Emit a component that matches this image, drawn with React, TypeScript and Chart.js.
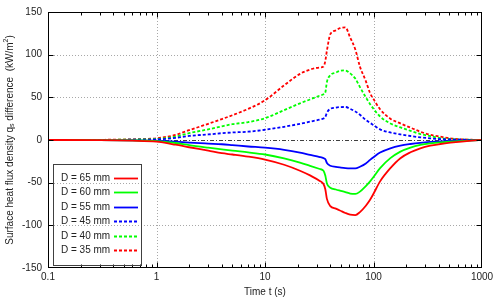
import React, { useEffect, useRef } from "react";
import { Chart, registerables } from "chart.js";
Chart.register(...registerables);

// Time axis samples (s)
const times = [0.1, 0.3, 0.6, 1, 1.5, 2, 3, 4, 5, 7, 10, 15, 21, 26, 32, 34.6, 36, 37.2, 40, 45, 49, 55, 61, 68, 75, 85, 93, 100, 115, 143, 177, 219, 270, 334, 414, 512, 650, 800, 1000];

// Heat flux differences (kW/m^2)
const d65 = [0, -0.15, -0.8, -2, -5.5, -8.5, -12.5, -15.5, -17, -19.5, -23, -29, -36, -41.5, -48, -51.6, -58, -69, -77.5, -80.5, -82.6, -85.5, -87.5, -88, -84.5, -77, -70, -63, -48.5, -33, -21.3, -14.4, -9.7, -6.6, -4.7, -3.2, -1.8, -0.8, 0];
const d60 = [0, -0.1, -0.5, -1.2, -3.5, -6, -9, -11, -12.5, -14.5, -17, -21.5, -26.4, -30.2, -34, -36, -42, -51, -56, -58, -59.3, -61, -62.8, -63.2, -60.5, -54, -48.5, -43.4, -33, -21.3, -13.6, -8.9, -5.8, -3.9, -2.7, -2, -1.2, -0.5, 0];
const d55 = [0, -0.05, -0.3, -0.8, -2, -3, -4.2, -5, -6, -7.6, -9, -11.5, -14.7, -17.4, -20, -21.3, -22.5, -27, -30.2, -31.5, -32.2, -33, -33.3, -33.3, -31.3, -27.5, -23.3, -20.2, -14.7, -9.7, -6.6, -4.7, -3.3, -2.3, -1.6, -1.1, -0.7, -0.3, 0];
const d45 = [0, 0.05, 0.3, 0.6, 2.5, 4.8, 6.5, 8, 8.8, 9.7, 12, 15.5, 19, 21.5, 24, 25.2, 27, 32, 36.5, 38, 38.5, 38.7, 36.5, 33.5, 29.5, 23.5, 20, 17.5, 12.5, 8.8, 6.6, 4.7, 3.1, 2, 1, 0.6, 0.3, 0.1, 0];
const d40 = [0, 0.1, 0.5, 1.2, 4, 8, 12.5, 16, 18.5, 21, 25.5, 35, 43, 47.5, 52, 53.5, 56, 68, 76, 79, 81, 81.5, 78, 72, 62, 50, 42, 36.5, 27.5, 19.4, 14.7, 10.8, 7, 4.5, 2.2, 1.2, 0.5, 0.2, 0];
const d35 = [0, 0.2, 0.8, 2, 6, 11.5, 19, 24.5, 29, 36.5, 46.5, 64, 77.5, 82.5, 85, 86, 93, 104.7, 124, 128.5, 131, 132, 120, 106, 86, 69, 55, 48, 36, 25, 19.4, 14.5, 9.7, 6, 3.9, 2, 0.8, 0.3, 0];

const seriesLabels = ["D = 65 mm", "D = 60 mm", "D = 55 mm", "D = 45 mm", "D = 40 mm", "D = 35 mm"];

// Axis ticks
const xTickValues = [0.1, 1, 10, 100, 1000];
const xGridValues = [1, 10, 100];
const yGridValues = [-100, -50, 50, 100];
const yTickValues = [-100, -50, 0, 50, 100];

const FONT = "'Liberation Sans', Arial, sans-serif";
const TEXT = "#222";

const gnuplotPlugin = {
  id: "gnuplotFrame",
  beforeDatasetsDraw(chart: any) {
    const { ctx, chartArea: a, scales } = chart;
    const xs = scales.x, ys = scales.y;
    ctx.save();
    ctx.lineWidth = 1;
    ctx.strokeStyle = "#a8a8a8";
    ctx.setLineDash([1, 2]);
    for (const v of xGridValues) {
      const px = Math.round(xs.getPixelForValue(v)) + 0.5;
      ctx.beginPath(); ctx.moveTo(px, a.top); ctx.lineTo(px, a.bottom); ctx.stroke();
    }
    for (const v of yGridValues) {
      const py = Math.round(ys.getPixelForValue(v)) + 0.5;
      ctx.beginPath(); ctx.moveTo(a.left, py); ctx.lineTo(a.right, py); ctx.stroke();
    }
    // zero axis (dash-dot)
    ctx.strokeStyle = "#404040";
    ctx.setLineDash([4, 2, 1, 2]);
    const pz = Math.round(ys.getPixelForValue(0)) + 0.5;
    ctx.beginPath(); ctx.moveTo(a.left, pz); ctx.lineTo(a.right, pz); ctx.stroke();
    ctx.restore();
  },
  afterDatasetsDraw(chart: any) {
    const { ctx, chartArea: a, scales } = chart;
    const xs = scales.x, ys = scales.y;
    ctx.save();
    ctx.setLineDash([]);
    ctx.strokeStyle = "#000";
    ctx.lineWidth = 1;
    // frame
    const L = Math.round(a.left) + 0.5, R = Math.round(a.right) - 0.5;
    const T = Math.round(a.top) + 0.5, B = Math.round(a.bottom) - 0.5;
    ctx.strokeRect(L, T, R - L, B - T);
    // major x ticks
    ctx.beginPath();
    for (const v of xGridValues) {
      const px = Math.round(xs.getPixelForValue(v)) + 0.5;
      ctx.moveTo(px, B); ctx.lineTo(px, B - 5);
      ctx.moveTo(px, T); ctx.lineTo(px, T + 5);
    }
    // minor x ticks
    for (const d of [0.1, 1, 10, 100]) {
      for (let m = 2; m <= 9; m++) {
        const px = Math.round(xs.getPixelForValue(d * m)) + 0.5;
        ctx.moveTo(px, B); ctx.lineTo(px, B - 3);
        ctx.moveTo(px, T); ctx.lineTo(px, T + 3);
      }
    }
    // y ticks
    for (const v of yTickValues) {
      const py = Math.round(ys.getPixelForValue(v)) + 0.5;
      ctx.moveTo(L, py); ctx.lineTo(L + 5, py);
      ctx.moveTo(R, py); ctx.lineTo(R - 5, py);
    }
    ctx.stroke();

    // legend
    ctx.strokeStyle = "#404040";
    ctx.strokeRect(53.5, 164.5, 88, 101);
    ctx.font = `10px ${FONT}`;
    ctx.textBaseline = "middle";
    ctx.textAlign = "left";
    chart.data.datasets.forEach((ds: any, i: number) => {
      const y = Math.round(178 + i * 14.4) + 0.5;
      ctx.fillStyle = TEXT;
      ctx.fillText(ds.label, 61, y);
      ctx.strokeStyle = ds.borderColor;
      ctx.lineWidth = ds.borderWidth;
      ctx.setLineDash(ds.borderDash || []);
      ctx.beginPath(); ctx.moveTo(114, y); ctx.lineTo(138, y); ctx.stroke();
    });
    ctx.setLineDash([]);

    // y-axis title with subscript / superscript
    const pieces = [
      { t: "Surface heat flux density q", s: 10, dy: 0 },
      { t: "s", s: 7, dy: 2.5 },
      { t: " difference  (kW/m", s: 10, dy: 0 },
      { t: "2", s: 7, dy: -4 },
      { t: ")", s: 10, dy: 0 },
    ];
    let total = 0;
    for (const p of pieces) { ctx.font = `${p.s}px ${FONT}`; total += ctx.measureText(p.t).width; }
    ctx.translate(10, (a.top + a.bottom) / 2);
    ctx.rotate(-Math.PI / 2);
    ctx.fillStyle = TEXT;
    ctx.textAlign = "left";
    ctx.textBaseline = "middle";
    let x = -total / 2;
    for (const p of pieces) {
      ctx.font = `${p.s}px ${FONT}`;
      ctx.fillText(p.t, x, p.dy);
      x += ctx.measureText(p.t).width;
    }
    ctx.restore();
  },
};

export default function App() {
  const ref = useRef<HTMLCanvasElement>(null);
  useEffect(() => {
    document.body.style.margin = "0";
    const canvas = ref.current!;
    const colors = ["#ff0000", "#00ff00", "#0000ff", "#0000ff", "#00ff00", "#ff0000"];
    const values = [d65, d60, d55, d45, d40, d35];
    const datasets = values.map((vals, i) => ({
      label: seriesLabels[i],
      data: times.map((t, j) => ({ x: t, y: vals[j] })),
      borderColor: colors[i],
      borderWidth: 1.8,
      borderDash: i >= 3 ? [3, 2] : [],
      pointRadius: 0,
      fill: false,
      cubicInterpolationMode: "monotone" as const,
    }));
    const chart = new Chart(canvas, {
      type: "line",
      data: { datasets },
      options: {
        responsive: false,
        animation: false,
        layout: { padding: { left: 0, right: 18, top: 12, bottom: 0 } },
        plugins: { legend: { display: false }, tooltip: { enabled: false } },
        scales: {
          x: {
            type: "logarithmic",
            min: 0.1,
            max: 1000,
            grid: { display: false, drawTicks: false },
            border: { display: false },
            afterBuildTicks: (s: any) => { s.ticks = xTickValues.map((v) => ({ value: v })); },
            afterFit: (s: any) => { s.height = 32; },
            ticks: {
              autoSkip: false,
              maxRotation: 0,
              padding: 3,
              color: TEXT,
              font: { family: FONT, size: 10 },
              callback: (v: any) => String(v),
            },
            title: { display: true, text: "Time t (s)", color: TEXT, font: { family: FONT, size: 10 }, padding: { top: 0, bottom: 2 } },
          },
          y: {
            type: "linear",
            min: -150,
            max: 150,
            grid: { display: false, drawTicks: false },
            border: { display: false },
            afterFit: (s: any) => { s.width = 48; },
            ticks: { stepSize: 50, padding: 6, color: TEXT, font: { family: FONT, size: 10 } },
          },
        },
      },
      plugins: [gnuplotPlugin],
    });
    return () => chart.destroy();
  }, []);
  return (
    <div style={{ width: 500, height: 300 }}>
      <canvas ref={ref} width={500} height={300} style={{ display: "block" }} />
    </div>
  );
}
